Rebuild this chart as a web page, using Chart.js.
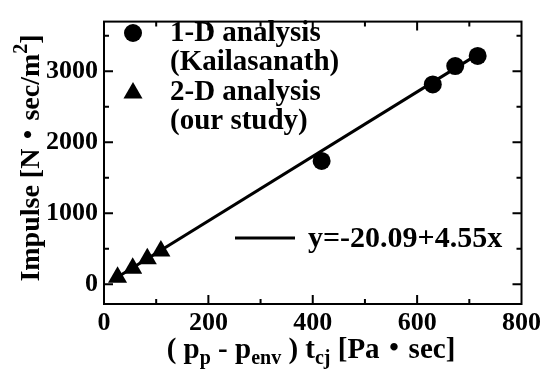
<!DOCTYPE html>
<html>
<head>
<meta charset="utf-8">
<script src="https://cdn.jsdelivr.net/npm/chart.js@4.4.0/dist/chart.umd.min.js"></script>
<style>
  html, body { margin: 0; padding: 0; background: #fff; }
  #wrap { width: 545px; height: 376px; }
</style>
</head>
<body>
<div id="wrap"><canvas id="chart"></canvas></div>
<script>
// values
const oneDX = [417, 630, 673, 716];
const oneDY = [1737, 2815, 3073, 3216];
const twoDX = [26, 55, 83, 109];
const twoDY = [98, 223, 356, 468];
const fitX = [20, 720];
const fitY = [71, 3256];

const xTicks = [0, 200, 400, 600, 800];
const yTicks = [0, 1000, 2000, 3000];
const xMinor = [100, 300, 500, 700];
const yMinor = [500, 1500, 2500, 3500];

const oneDLabel = ['1-D analysis', '(Kailasanath)'];
const twoDLabel = ['2-D analysis', '(our study)'];
const fitLabel = 'y=-20.09+4.55x';

const FONT = '"Liberation Serif", "Times New Roman", "Noto Sans CJK JP", serif';

function toPoints(xs, ys) {
  return xs.map((x, i) => ({ x: x, y: ys[i] }));
}

// draws a run of text pieces (sub/superscripts) centred on cx
function drawRich(ctx, segs, cx, baseY) {
  let total = 0;
  segs.forEach(s => {
    ctx.font = 'bold ' + s.size + 'px ' + FONT;
    s.w = ctx.measureText(s.t).width;
    total += s.w;
  });
  let x = cx - total / 2;
  ctx.textAlign = 'left';
  ctx.textBaseline = 'alphabetic';
  segs.forEach(s => {
    ctx.font = 'bold ' + s.size + 'px ' + FONT;
    ctx.fillText(s.t, x, baseY + (s.dy || 0));
    x += s.w;
  });
}

function drawTriangle(ctx, x, y, r) {
  ctx.beginPath();
  for (let k = 0; k < 3; k++) {
    const a = k * 2 * Math.PI / 3;
    const px = x + Math.sin(a) * r;
    const py = y - Math.cos(a) * r;
    if (k === 0) ctx.moveTo(px, py); else ctx.lineTo(px, py);
  }
  ctx.closePath();
  ctx.fill();
}

const framePlugin = {
  id: 'frame',
  afterDraw(chart) {
    const ctx = chart.ctx;
    const a = chart.chartArea;
    const xs = chart.scales.x;
    const ys = chart.scales.y;
    ctx.save();
    ctx.strokeStyle = '#000';
    ctx.fillStyle = '#000';
    ctx.lineWidth = 2;
    ctx.strokeRect(a.left, a.top, a.right - a.left, a.bottom - a.top);

    // inward ticks on all four sides
    const tick = (vals, len) => {
      vals.forEach(v => {
        const px = xs.getPixelForValue(v);
        ctx.beginPath();
        ctx.moveTo(px, a.bottom); ctx.lineTo(px, a.bottom - len);
        ctx.moveTo(px, a.top); ctx.lineTo(px, a.top + len);
        ctx.stroke();
      });
    };
    const tickY = (vals, len) => {
      vals.forEach(v => {
        const py = ys.getPixelForValue(v);
        ctx.beginPath();
        ctx.moveTo(a.left, py); ctx.lineTo(a.left + len, py);
        ctx.moveTo(a.right, py); ctx.lineTo(a.right - len, py);
        ctx.stroke();
      });
    };
    tick(xTicks.slice(1, -1), 9);
    tick(xMinor, 5);
    tickY(yTicks, 9);
    tickY(yMinor, 5);

    // axis titles
    drawRich(ctx, [
      { t: '( p', size: 29 },
      { t: 'p', size: 20, dy: 6 },
      { t: ' - p', size: 29 },
      { t: 'env', size: 20, dy: 6 },
      { t: ' ) t', size: 29 },
      { t: 'cj', size: 20, dy: 6 },
      { t: ' [Pa・sec]', size: 29 }
    ], 311, 358);

    ctx.save();
    ctx.translate(39, 158);
    ctx.rotate(-Math.PI / 2);
    drawRich(ctx, [
      { t: 'Impulse [N・sec/m', size: 28 },
      { t: '2', size: 20, dy: -12 },
      { t: ']', size: 28 }
    ], 0, 0);
    ctx.restore();

    // legend
    ctx.beginPath();
    ctx.arc(133, 33, 9, 0, Math.PI * 2);
    ctx.fill();
    drawTriangle(ctx, 133, 93, 11);
    ctx.font = 'bold 29px ' + FONT;
    ctx.textAlign = 'left';
    ctx.textBaseline = 'middle';
    ctx.fillText(oneDLabel[0], 170, 34);
    ctx.fillText(oneDLabel[1], 170, 63);
    ctx.fillText(twoDLabel[0], 170, 93);
    ctx.fillText(twoDLabel[1], 170, 122);

    ctx.lineWidth = 3;
    ctx.beginPath();
    ctx.moveTo(235, 238);
    ctx.lineTo(295, 238);
    ctx.stroke();
    ctx.font = 'bold 30px ' + FONT;
    ctx.fillText(fitLabel, 308, 239);
    ctx.restore();
  }
};

const tickFont = { family: FONT, weight: 'bold', size: 26 };

new Chart(document.getElementById('chart'), {
  type: 'scatter',
  data: {
    datasets: [
      {
        label: 'fit',
        data: toPoints(fitX, fitY),
        showLine: true,
        borderColor: '#000',
        borderWidth: 3,
        pointRadius: 0,
        order: 2
      },
      {
        label: oneDLabel.join(' '),
        data: toPoints(oneDX, oneDY),
        pointStyle: 'circle',
        pointRadius: 9,
        backgroundColor: '#000',
        borderColor: '#000',
        borderWidth: 0,
        order: 1
      },
      {
        label: twoDLabel.join(' '),
        data: toPoints(twoDX, twoDY),
        pointStyle: 'triangle',
        pointRadius: 11,
        backgroundColor: '#000',
        borderColor: '#000',
        borderWidth: 0,
        order: 1
      }
    ]
  },
  options: {
    responsive: true,
    maintainAspectRatio: false,
    animation: false,
    layout: { padding: { top: 5, right: 23, left: 0, bottom: 0 } },
    plugins: {
      legend: { display: false },
      tooltip: { enabled: false }
    },
    scales: {
      x: {
        type: 'linear',
        min: 0,
        max: 800,
        afterBuildTicks: s => { s.ticks = xTicks.map(v => ({ value: v })); },
        afterFit: s => { s.height = 72; },
        grid: { display: false, drawTicks: false },
        border: { display: false },
        ticks: { color: '#000', font: tickFont, padding: 4, maxRotation: 0, callback: v => String(v) }
      },
      y: {
        type: 'linear',
        min: -280,
        max: 3700,
        afterBuildTicks: s => { s.ticks = yTicks.map(v => ({ value: v })); },
        afterFit: s => { s.width = 104; },
        grid: { display: false, drawTicks: false },
        border: { display: false },
        ticks: { color: '#000', font: tickFont, padding: 6, callback: v => String(v) }
      }
    }
  },
  plugins: [framePlugin]
});
</script>
</body>
</html>
